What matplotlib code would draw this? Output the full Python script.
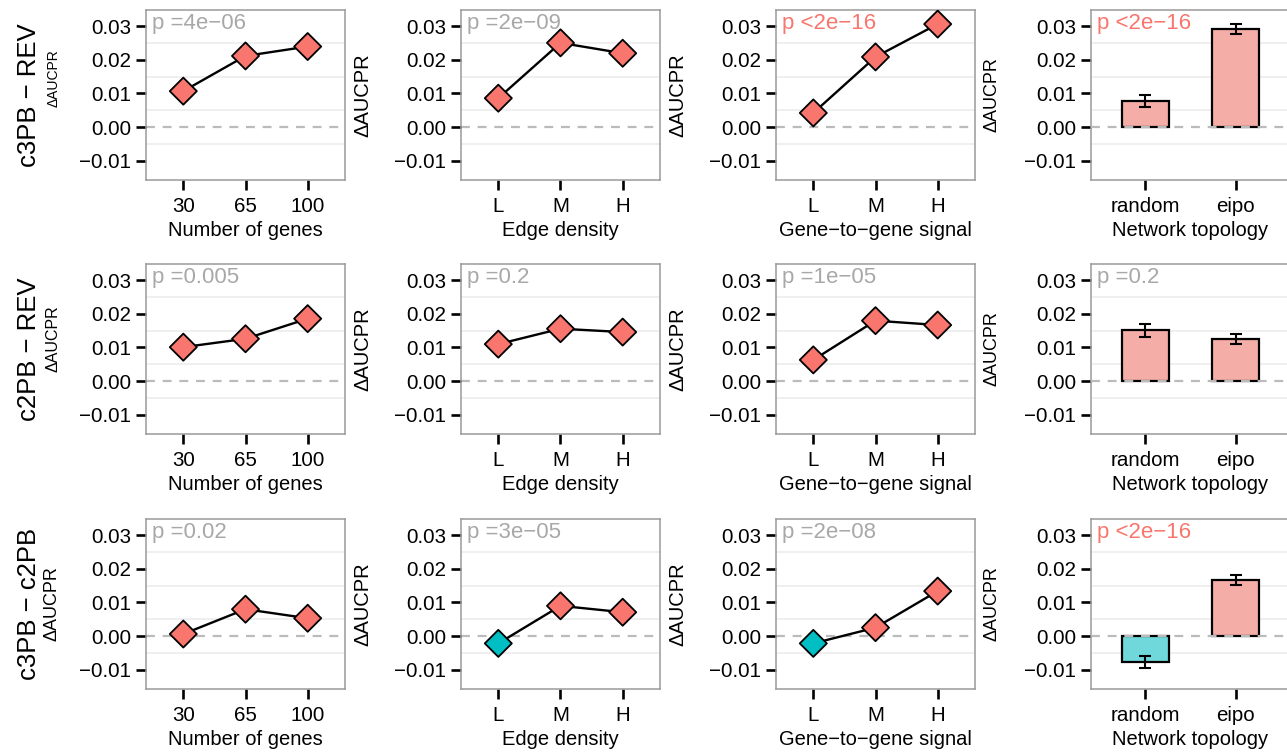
import numpy as np
import matplotlib
matplotlib.use("Agg")
import matplotlib.pyplot as plt

plt.rcParams['font.family'] = ['Liberation Sans', 'DejaVu Sans']

# data
row_labels = ["c3PB \u2212 REV", "c2PB \u2212 REV", "c3PB \u2212 c2PB"]
xlabels = ["Number of genes", "Edge density", "Gene\u2212to\u2212gene signal", "Network topology"]
genes_ticks = ["30", "65", "100"]
lmh_ticks = ["L", "M", "H"]
topo_ticks = ["random", "eipo"]

genes_vals = [[0.0107, 0.0212, 0.0240], [0.0101, 0.0126, 0.0186], [0.0006, 0.0080, 0.0053]]
edge_vals = [[0.0086, 0.0251, 0.0220], [0.0110, 0.0156, 0.0146], [-0.0022, 0.0090, 0.0071]]
signal_vals = [[0.0042, 0.0209, 0.0307], [0.0063, 0.0180, 0.0167], [-0.0022, 0.0025, 0.0134]]
topo_vals = [[0.0078, 0.0292], [0.0151, 0.0124], [-0.0078, 0.0167]]
topo_err = [[0.0018, 0.0015], [0.0020, 0.0015], [0.0017, 0.0016]]

pvals = [["p =4e\u221206", "p =2e\u221209", "p <2e\u221216", "p <2e\u221216"],
         ["p =0.005", "p =0.2", "p =1e\u221205", "p =0.2"],
         ["p =0.02", "p =3e\u221205", "p =2e\u221208", "p <2e\u221216"]]

RED = "#F8766D"
CYAN = "#00BFC4"
BAR_RED = "#F5ADA7"
BAR_CYAN = "#70D8DA"
PGRAY = "#A8A8A8"

W, H = 1287, 752
fig = plt.figure(figsize=(W / 100, H / 100), dpi=100)

col_left = [146, 461, 776, 1091]
row_top = [10, 264, 519]
pw, ph = 199, 170

# the y labels are not the same size in every panel of the source
col1_ylab_size = [10, 11.5, 13]
col1_ylab_y = [0.6, 0.56, 0.5]
other_ylab_size = [None, 14.5, 14.5, 13]
ylab_x = [-0.43, -0.445, -0.445, -0.455]


def style_axes(ax, ticklabels):
    ax.set_ylim(-0.0158, 0.0349)
    ax.set_yticks([-0.01, 0.0, 0.01, 0.02, 0.03])
    ax.set_yticklabels(["\u22120.01", "0.00", "0.01", "0.02", "0.03"])
    n = len(ticklabels)
    ax.set_xlim(0.4, n + 0.6)
    ax.set_xticks(np.arange(1, n + 1))
    ax.set_xticklabels(ticklabels)
    for y in [-0.005, 0.005, 0.015, 0.025]:
        ax.axhline(y, color="#EFEFEF", lw=1.4, zorder=0)
    for s in ax.spines.values():
        s.set_color("#9A9A9A")
        s.set_linewidth(1.1)
    ax.tick_params(axis="both", direction="out", length=7, width=1.9,
                   color="black", labelsize=14.8, labelcolor="black", pad=3.5)
    ax.tick_params(axis="x", pad=5)


for r in range(3):
    series = [genes_vals[r], edge_vals[r], signal_vals[r]]
    ticks = [genes_ticks, lmh_ticks, lmh_ticks]
    for c in range(4):
        left = col_left[c] / W
        bottom = 1 - (row_top[r] + ph) / H
        ax = fig.add_axes([left, bottom, pw / W, ph / H])
        if c < 3:
            style_axes(ax, ticks[c])
            ax.axhline(0, color="#BBBBBB", lw=1.6, ls=(0, (4, 3.5)), zorder=1)
            xs = np.arange(1, 4)
            vals = np.array(series[c])
            ax.plot(xs, vals, color="black", lw=1.7, zorder=2)
            cols = [CYAN if v < 0 else RED for v in vals]
            ax.scatter(xs, vals, marker="D", s=190, c=cols, edgecolors="black",
                       linewidths=1.3, zorder=3)
        else:
            style_axes(ax, topo_ticks)
            xs = np.arange(1, 3)
            vals = np.array(topo_vals[r])
            cols = [BAR_CYAN if v < 0 else BAR_RED for v in vals]
            ax.bar(xs, vals, width=0.52, color=cols, edgecolor="black", linewidth=1.6, zorder=2)
            ax.errorbar(xs, vals, yerr=topo_err[r], fmt="none", ecolor="black",
                        elinewidth=1.5, capsize=4, capthick=1.5, zorder=3)
            ax.axhline(0, color="#BBBBBB", lw=1.6, ls=(0, (4, 3.5)), zorder=4)
        ptxt = pvals[r][c]
        ax.text(0.03, 0.985, ptxt, transform=ax.transAxes, ha="left", va="top",
                fontsize=16, color=RED if "<" in ptxt else PGRAY, zorder=5)
        ax.set_xlabel(xlabels[c], fontsize=14.5, labelpad=4)
        if c == 0:
            ax.set_ylabel("\u0394AUCPR", fontsize=col1_ylab_size[r])
            ax.yaxis.set_label_coords(ylab_x[c], col1_ylab_y[r])
        else:
            ax.set_ylabel("\u0394AUCPR", fontsize=other_ylab_size[c])
            ax.yaxis.set_label_coords(ylab_x[c], 0.5)

    fig.text(29 / W, 1 - (row_top[r] + ph / 2) / H, row_labels[r], rotation=90,
             ha="center", va="center", fontsize=18.5)

fig.savefig("out.png", dpi=100)
